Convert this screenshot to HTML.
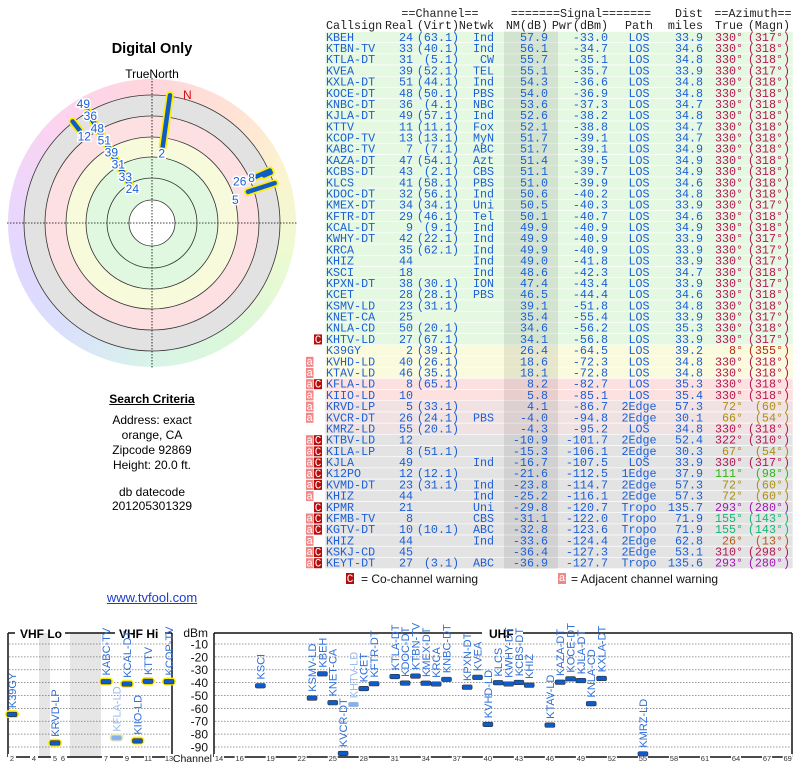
<!DOCTYPE html>
<html><head><meta charset="utf-8">
<style>
html,body{margin:0;padding:0;background:#fff;}
#wrap{position:relative;width:800px;height:768px;overflow:hidden;font-family:"Liberation Sans",sans-serif;}
#wheel{position:absolute;left:8px;top:79px;width:288px;height:288px;border-radius:50%;
background:conic-gradient(#ffd6dc 0deg,#ffe4d4 40deg,#fbf4d0 70deg,#eefad2 100deg,#dcf8d8 140deg,#d8f4e8 180deg,#dae0fc 220deg,#e0d8ff 250deg,#ecd6fc 280deg,#fcd4f0 315deg,#ffd6dc 360deg);}
svg{position:absolute;left:0;top:0;}
.t{position:absolute;text-align:center;font-size:12px;color:#000;}
</style></head>
<body>
<div id="wrap">
<div id="wheel"></div>
<svg id="s" width="800" height="768"></svg>
<div class="t" style="left:52px;top:41px;width:200px;font-size:14.5px;font-weight:bold;">Digital Only</div>
<div class="t" style="left:52px;top:67px;width:200px;">TrueNorth</div>
<div class="t" style="left:52px;top:392px;width:200px;font-weight:bold;text-decoration:underline;">Search Criteria</div>
<div class="t" style="left:52px;top:413px;width:200px;line-height:15px;">Address: exact<br>orange, CA<br>Zipcode 92869<br>Height: 20.0 ft.</div>
<div class="t" style="left:52px;top:485px;width:200px;line-height:14px;">db datecode<br>201205301329</div>
<div class="t" style="left:52px;top:590px;width:200px;font-size:13px;color:#1a3ccc;text-decoration:underline;">www.tvfool.com</div>
</div>
<script>
const calls=["KBEH","KTBN-TV","KTLA-DT","KVEA","KXLA-DT","KOCE-DT","KNBC-DT","KJLA-DT","KTTV","KCOP-TV","KABC-TV","KAZA-DT","KCBS-DT","KLCS","KDOC-DT","KMEX-DT","KFTR-DT","KCAL-DT","KWHY-DT","KRCA","KHIZ","KSCI","KPXN-DT","KCET","KSMV-LD","KNET-CA","KNLA-CD","KHTV-LD","K39GY","KVHD-LD","KTAV-LD","KFLA-LD","KIIO-LD","KRVD-LP","KVCR-DT","KMRZ-LD","KTBV-LD","KILA-LP","KJLA","K12PO","KVMD-DT","KHIZ","KPMR","KFMB-TV","KGTV-DT","KHIZ","KSKJ-CD","KEYT-DT"];
const chans=[24,33,31,39,51,48,36,49,11,13,7,47,43,41,32,34,29,9,42,35,44,18,38,28,23,25,50,27,2,40,46,8,10,5,26,55,12,8,49,12,23,44,21,8,10,44,45,27];
const virts=["(63.1)","(40.1)","(5.1)","(52.1)","(44.1)","(50.1)","(4.1)","(57.1)","(11.1)","(13.1)","(7.1)","(54.1)","(2.1)","(58.1)","(56.1)","(34.1)","(46.1)","(9.1)","(22.1)","(62.1)","","","(30.1)","(28.1)","(31.1)","","(20.1)","(67.1)","(39.1)","(26.1)","(35.1)","(65.1)","","(33.1)","(24.1)","(20.1)","","(51.1)","","(12.1)","(31.1)","","","","(10.1)","","","(3.1)"];
const nets=["Ind","Ind","CW","TEL","Ind","PBS","NBC","Ind","Fox","MyN","ABC","Azt","CBS","PBS","Ind","Uni","Tel","Ind","Ind","Ind","Ind","Ind","ION","PBS","","","","","","","","","","","PBS","","","","Ind","","Ind","Ind","Uni","CBS","ABC","Ind","","ABC"];
const nms=[57.9,56.1,55.7,55.1,54.3,54.0,53.6,52.6,52.1,51.7,51.7,51.4,51.1,51.0,50.6,50.5,50.1,49.9,49.9,49.9,49.0,48.6,47.4,46.5,39.1,35.4,34.6,34.1,26.4,18.6,18.1,8.2,5.8,4.1,-4.0,-4.3,-10.9,-15.3,-16.7,-21.6,-23.8,-25.2,-29.8,-31.1,-32.8,-33.6,-36.4,-36.9];
const pwrs=[-33.0,-34.7,-35.1,-35.7,-36.6,-36.9,-37.3,-38.2,-38.8,-39.1,-39.1,-39.5,-39.7,-39.9,-40.2,-40.3,-40.7,-40.9,-40.9,-40.9,-41.8,-42.3,-43.4,-44.4,-51.8,-55.4,-56.2,-56.8,-64.5,-72.3,-72.8,-82.7,-85.1,-86.7,-94.8,-95.2,-101.7,-106.1,-107.5,-112.5,-114.7,-116.1,-120.7,-122.0,-123.6,-124.4,-127.3,-127.7];
const paths=["LOS","LOS","LOS","LOS","LOS","LOS","LOS","LOS","LOS","LOS","LOS","LOS","LOS","LOS","LOS","LOS","LOS","LOS","LOS","LOS","LOS","LOS","LOS","LOS","LOS","LOS","LOS","LOS","LOS","LOS","LOS","LOS","LOS","2Edge","2Edge","LOS","2Edge","2Edge","LOS","1Edge","2Edge","2Edge","Tropo","Tropo","Tropo","2Edge","2Edge","Tropo"];
const dists=[33.9,34.6,34.8,33.9,34.8,34.8,34.7,34.8,34.7,34.7,34.9,34.9,34.9,34.6,34.8,33.9,34.6,34.9,33.9,33.9,33.9,34.7,33.9,34.6,34.8,33.9,35.3,33.9,39.2,34.8,34.8,35.3,35.4,57.3,30.1,34.8,52.4,30.3,33.9,37.9,57.3,57.3,135.7,71.9,71.9,62.8,53.1,135.6];
const trues=[330,330,330,330,330,330,330,330,330,330,330,330,330,330,330,330,330,330,330,330,330,330,330,330,330,330,330,330,8,330,330,330,330,72,66,330,322,67,330,111,72,72,293,155,155,26,310,293];
const magns=[317,318,318,317,318,318,318,318,318,318,318,318,318,318,318,317,318,318,317,317,317,318,317,318,318,317,318,317,355,318,318,318,318,60,54,318,310,54,317,98,60,60,280,143,143,13,298,280];
const warns=["","","","","","","","","","","","","","","","","","","","","","","","","","","","C","","a","a","aC","a","a","a","","aC","aC","aC","aC","aC","a","C","aC","aC","a","aC","aC"];
const bands=["g","g","g","g","g","g","g","g","g","g","g","g","g","g","g","g","g","g","g","g","g","g","g","g","g","g","g","g","y","y","y","r","r","p","p","p","x","x","x","x","x","x","x","x","x","x","x","x"];
// polar labels (row indices) and bottom-chart dBm ticks
const polarLabelRows=[0,1,2,3,4,5,6,7,28,33,34,36,37];
const dbmTicks=[-10,-20,-30,-40,-50,-60,-70,-80,-90];
const vhfTicks=["2","4","5","6","7","9","11","13"];
const uhfTicks=[14,16,19,22,25,28,31,34,37,40,43,46,49,52,55,58,61,64,67,69];

const NS="http://www.w3.org/2000/svg";
const S=document.getElementById('s');
function mk(tag,attrs,parent,txt){const e=document.createElementNS(NS,tag);for(const k in attrs)e.setAttribute(k,attrs[k]);if(txt!==undefined)e.textContent=txt;(parent||S).appendChild(e);return e;}

/* ---------- TABLE ---------- */
const g=mk('g',{});


const rowTop=i=>31.5+i*11.19;
const bandFill={g:"#e4f8e2",y:"#fafadc",r:"#fde0e0",p:"#f0e2e2",x:"#e3e3e3"};
for(let i=0;i<calls.length;i++){
  const r=mk('rect',{x:325,y:rowTop(i),width:468,height:11.19,fill:bandFill[bands[i]],stroke:"#fff","stroke-width":0.6},g);
  
  
}
const nmcol=mk('rect',{x:504,y:31.5,width:54,height:48*11.19,fill:"rgba(0,0,0,0.08)"},g);


const mono='"Liberation Mono","DejaVu Sans Mono",monospace';
const hdr=mk('g',{"font-family":mono,"font-size":"11.7px",fill:"#222"},g);


function ht(x,y,txt,anchor){mk('text',{x:x,y:y,"text-anchor":anchor||"start"},hdr,txt);}
ht(440,17,"==Channel==","middle");ht(581,17,"=======Signal=======","middle");ht(703,17,"Dist","end");ht(753,17,"==Azimuth==","middle");
ht(326,29,"Callsign");ht(413,29,"Real","end");ht(459,29,"(Virt)","end");ht(494,29,"Netwk","end");ht(548,29,"NM(dB)","end");ht(608,29,"Pwr(dBm)","end");ht(639,29,"Path","middle");ht(703,29,"miles","end");ht(743,29,"True","end");ht(790,29,"(Magn)","end");
const body=mk('g',{"font-family":mono,"font-size":"11.7px",fill:"#1c5fd6"},g);
function azColor(a){let h=a;let l=40;if(a>40&&a<90){h=48;l=38;}if(a>300&&a<340)h=338;return `hsl(${h},78%,${l}%)`;}
for(let i=0;i<calls.length;i++){
  const y=rowTop(i)+9.3;
  mk('text',{x:326,y:y},body,calls[i]);
  mk('text',{x:413,y:y,"text-anchor":"end"},body,String(chans[i]));
  mk('text',{x:459,y:y,"text-anchor":"end"},body,virts[i]);
  mk('text',{x:494,y:y,"text-anchor":"end"},body,nets[i]);
  mk('text',{x:548,y:y,"text-anchor":"end"},body,nms[i].toFixed(1));
  mk('text',{x:608,y:y,"text-anchor":"end"},body,pwrs[i].toFixed(1));
  mk('text',{x:639,y:y,"text-anchor":"middle"},body,paths[i]);
  mk('text',{x:703,y:y,"text-anchor":"end"},body,dists[i].toFixed(1));
  mk('text',{x:743,y:y,"text-anchor":"end",fill:azColor(trues[i])},body,trues[i]+"°");
  mk('text',{x:790,y:y,"text-anchor":"end",fill:azColor(trues[i])},body,"("+magns[i]+"°)");
  if(warns[i].includes('a')){
    const wa=mk('rect',{x:306,y:rowTop(i)+0.8,width:7.5,height:10,fill:"#f08888"},g);
    
    
    mk('text',{x:309.7,y:rowTop(i)+9,"text-anchor":"middle",fill:"#fff","font-family":mono,"font-size":"11px"},g,"a");
  }
  if(warns[i].includes('C')){
    const wc=mk('rect',{x:314,y:rowTop(i)+0.8,width:8,height:10,fill:"#b80c0c"},g);
    
    
    mk('text',{x:318,y:rowTop(i)+9.3,"text-anchor":"middle",fill:"#fff","font-family":mono,"font-size":"11px"},g,"C");
  }
}
// legend
const lg=mk('g',{"font-family":'"Liberation Sans",sans-serif',"font-size":"12px",fill:"#111"});


mk('rect',{x:346,y:573,width:8,height:11,fill:"#b80c0c"},lg);
mk('text',{x:350,y:582,"text-anchor":"middle",fill:"#fff","font-family":mono,"font-size":"11px"},lg,"C");
mk('text',{x:361,y:583},lg,"= Co-channel warning");
mk('rect',{x:558,y:573,width:8,height:11,fill:"#f08888"},lg);
mk('text',{x:562,y:581,"text-anchor":"middle",fill:"#fff","font-family":mono,"font-size":"11px"},lg,"a");
mk('text',{x:571,y:583},lg,"= Adjacent channel warning");

/* ---------- POLAR ---------- */
const CX=152,CY=223;
const pg=mk('g',{});


mk('circle',{cx:CX,cy:CY,r:128,fill:"#e2e2e2"},pg);
mk('circle',{cx:CX,cy:CY,r:107,fill:"#fde0e2"},pg);
mk('circle',{cx:CX,cy:CY,r:86,fill:"#f8fadc"},pg);
mk('circle',{cx:CX,cy:CY,r:66,fill:"#e0f8e0"},pg);
mk('circle',{cx:CX,cy:CY,r:23,fill:"#fff"},pg);
[23,45,66,86,107,128].forEach(r=>mk('circle',{cx:CX,cy:CY,r:r,fill:"none",stroke:"#333","stroke-width":0.8},pg));
mk('line',{x1:7,y1:CY,x2:297,y2:CY,stroke:"#000","stroke-width":0.8,"stroke-dasharray":"1.5,1.5"},pg);
mk('line',{x1:CX,y1:78,x2:CX,y2:368,stroke:"#000","stroke-width":0.8,"stroke-dasharray":"1.5,1.5"},pg);
mk('text',{x:183,y:99,fill:"#d01010","font-size":"12px","font-family":'"Liberation Sans",sans-serif'},pg,"N");
const rOf=nm=>105.3-1.07*nm;
const pt=(a,r)=>[CX+r*Math.sin(a*Math.PI/180),CY-r*Math.cos(a*Math.PI/180)];
const beamIdx=[];for(let i=0;i<calls.length;i++){if(nms[i]>-16)beamIdx.push(i);}
beamIdx.forEach(i=>{const [x1,y1]=pt(trues[i],rOf(nms[i]));const [x2,y2]=pt(trues[i],129);
  const b=mk('line',{x1:x1,y1:y1,x2:x2,y2:y2,stroke:"#ffee00","stroke-width":8,"stroke-linecap":"round"},pg);
  
  });
beamIdx.forEach(i=>{const [x1,y1]=pt(trues[i],rOf(nms[i]));const [x2,y2]=pt(trues[i],129);
  const b=mk('line',{x1:x1,y1:y1,x2:x2,y2:y2,stroke:"#0f5cc8","stroke-width":4.5,"stroke-linecap":"round"},pg);
  
  });
let prev330=-99;
polarLabelRows.forEach(i=>{
  let r=rOf(nms[i])-(trues[i]===330?4:7);
  if(trues[i]===330){r=Math.max(r,prev330+14);prev330=r;}
  let [x,y]=pt(trues[i],r);
  if(trues[i]>60&&trues[i]<80){x-=6;y+=(trues[i]===72?6:0);}
  const t=mk('text',{x:x,y:y+4,"text-anchor":"middle","font-size":"12px","font-family":'"Liberation Sans",sans-serif',fill:"#1c5fd6",stroke:"#fff","stroke-width":3,"paint-order":"stroke"},pg,String(chans[i]));
  
  
});

/* ---------- BOTTOM SPECTRUM CHART ---------- */
const bg=mk('g',{"font-family":'"Liberation Sans",sans-serif'});


const yOf=d=>631.1-d*1.2875;
function xOf(ch){
  if(ch<=4)return 12+(ch-2)*11;
  if(ch<=6)return 55+(ch-5)*8;
  if(ch<=13)return 106+(ch-7)*10.5;
  return 219+(ch-14)*10.34;
}
mk('rect',{x:39,y:633,width:11,height:125,fill:"#e6e6e6"},bg);
mk('rect',{x:70,y:633,width:31,height:125,fill:"#e6e6e6"},bg);
dbmTicks.forEach(d=>{
  mk('line',{x1:9,x2:171,y1:yOf(d),y2:yOf(d),stroke:"#777","stroke-width":0.8,"stroke-dasharray":"1.5,1.5"},bg);
  mk('line',{x1:215,x2:791,y1:yOf(d),y2:yOf(d),stroke:"#777","stroke-width":0.8,"stroke-dasharray":"1.5,1.5"},bg);
  mk('text',{x:208,y:yOf(d)+4.5,"text-anchor":"end","font-size":"12px",fill:"#111"},bg,String(d));
});
mk('text',{x:208,y:637,"text-anchor":"end","font-size":"12px",fill:"#111"},bg,"dBm");
const ax={stroke:"#111","stroke-width":1.5};
mk('line',Object.assign({x1:8,y1:633,x2:8,y2:757},ax),bg);
mk('line',Object.assign({x1:172,y1:633,x2:172,y2:757},ax),bg);
mk('line',Object.assign({x1:8,y1:633,x2:15,y2:633},ax),bg);
mk('line',Object.assign({x1:65,y1:633,x2:115,y2:633},ax),bg);
mk('line',Object.assign({x1:165,y1:633,x2:172,y2:633},ax),bg);
mk('line',Object.assign({x1:8,y1:757,x2:172,y2:757},ax),bg);
mk('text',{x:20,y:638,"font-size":"12px","font-weight":"bold"},bg,"VHF Lo");
mk('text',{x:119,y:638,"font-size":"12px","font-weight":"bold"},bg,"VHF Hi");
mk('line',Object.assign({x1:214,y1:633,x2:214,y2:757},ax),bg);
mk('line',Object.assign({x1:792,y1:633,x2:792,y2:757},ax),bg);
mk('line',Object.assign({x1:214,y1:633,x2:482,y2:633},ax),bg);
mk('line',Object.assign({x1:523,y1:633,x2:792,y2:633},ax),bg);
mk('line',Object.assign({x1:214,y1:757,x2:792,y2:757},ax),bg);
mk('text',{x:489,y:638,"font-size":"12px","font-weight":"bold"},bg,"UHF");
mk('text',{x:212,y:762,"text-anchor":"end","font-size":"10.5px",fill:"#111"},bg,"Channel");
vhfTicks.forEach(c=>{const x=xOf(+c);mk('rect',{x:x-4,y:754,width:8,height:8,fill:"#fff"},bg);mk('text',{x:x,y:761,"text-anchor":"middle","font-size":"7.5px",fill:"#333"},bg,c);});
uhfTicks.forEach(c=>{const x=xOf(c);mk('rect',{x:x-5,y:754,width:10,height:8,fill:"#fff"},bg);mk('text',{x:x,y:761,"text-anchor":"middle","font-size":"7.5px",fill:"#333"},bg,String(c));});
for(let i=0;i<calls.length;i++){
  if(pwrs[i]<-96)continue;
  const x=xOf(chans[i]),y=yOf(pwrs[i]);
  const weak=warns[i].includes('C');
  if(chans[i]<=13){
    const h=mk('rect',{x:x-7,y:y-4,width:14,height:8,rx:4,fill:weak?"#e8e8c0":"#ffee00"},bg);
    
    
  }
  const b=mk('rect',{x:x-5,y:y-2,width:10,height:4.5,rx:1.5,fill:weak?"#88b0e8":"#0f5cc8",stroke:weak?"#a8c0e0":"#333","stroke-width":0.6},bg);
  
  
  const t=mk('text',{x:x+4,y:y-6,transform:`rotate(-90 ${x+4} ${y-6})`,"font-size":"11px",fill:weak?"#9cbcec":"#2f6fd8"},bg,calls[i]);
  
  
}
</script>
</body></html>
